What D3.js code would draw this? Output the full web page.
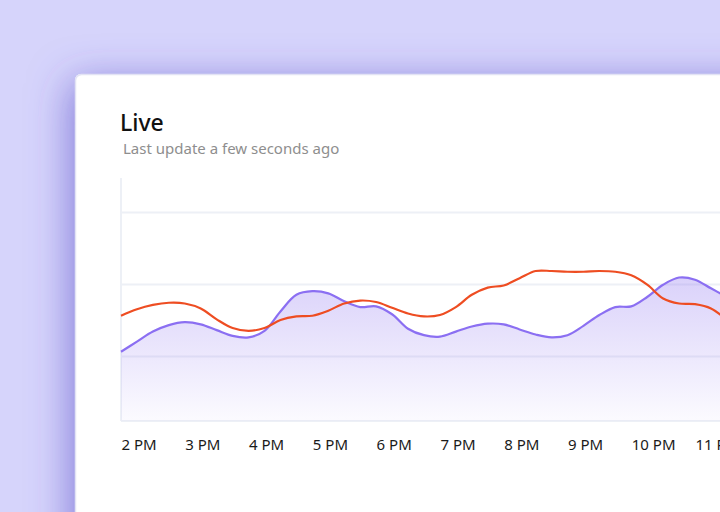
<!DOCTYPE html>
<html>
<head>
<meta charset="utf-8">
<script src="https://cdn.jsdelivr.net/npm/d3@7"></script>
<style>
  html, body { margin: 0; padding: 0; }
  body { width: 720px; height: 512px; overflow: hidden; background: #d6d4fb; font-family: "Noto Sans", sans-serif; }
</style>
</head>
<body>
<script>
// Live chart, two series sampled every 15 minutes from 2 PM

var startHour = 14;
var tickHours = [14, 15, 16, 17, 18, 19, 20, 21, 22, 23];
var gridValues = [100, 200, 300];

// purple series (filled)
var visitors = [106, 120, 134, 143, 147, 144, 136, 128, 126, 135,
  162, 185, 190, 187, 176, 168, 169, 158, 138, 129,
  127, 134, 141, 145, 144, 137, 130, 126, 129, 142,
  157, 168, 169, 182, 199, 209, 206, 194, 182];

// orange series
var sessions = [156, 165, 171, 174, 173, 166, 151, 139, 135, 139,
  150, 155, 156, 163, 173, 177, 175, 167, 159, 155,
  157, 168, 185, 195, 198, 208, 218, 218, 217, 217,
  218, 217, 212, 199, 180, 173, 172, 166, 150];

var w = 720;
var h = 512;

var svg = d3.select("body")
  .append("svg")
  .attr("width", w)
  .attr("height", h)
  .style("display", "block");

var defs = svg.append("defs");

svg.append("rect")
  .attr("width", w)
  .attr("height", h)
  .attr("fill", "#d6d4fb");

var shadow = defs.append("filter")
  .attr("id", "cardShadow")
  .attr("x", "-40%").attr("y", "-40%")
  .attr("width", "180%").attr("height", "180%");
shadow.append("feDropShadow")
  .attr("dx", -4).attr("dy", 8)
  .attr("stdDeviation", 20)
  .attr("flood-color", "#4e43c4")
  .attr("flood-opacity", 0.6);

// card
svg.append("rect")
  .attr("x", 75)
  .attr("y", 74)
  .attr("width", 700)
  .attr("height", 500)
  .attr("rx", 6)
  .attr("fill", "#ffffff")
  .attr("filter", "url(#cardShadow)");
svg.append("rect")
  .attr("x", 75.5)
  .attr("y", 74.5)
  .attr("width", 700)
  .attr("height", 500)
  .attr("rx", 6)
  .attr("fill", "none")
  .attr("stroke", "#e2e3f4")
  .attr("stroke-width", 1.5);

svg.append("text")
  .attr("x", 120)
  .attr("y", 131)
  .attr("font-size", 23)
  .attr("font-weight", 500)
  .attr("fill", "#111111")
  .text("Live");

svg.append("text")
  .attr("x", 123)
  .attr("y", 154)
  .attr("font-size", 15)
  .attr("fill", "#8e8e8e")
  .text("Last update a few seconds ago");

// scales
function timeAt(i) {
  return new Date(2024, 0, 1, startHour, i * 15);
}

var plotLeft = 121;
var plotTop = 178;
var plotBottom = 421;

var scaleX = d3.scaleTime()
  .domain([timeAt(0), timeAt(38)])
  .range([plotLeft, plotLeft + 38 * 15.945]);

var scaleY = d3.scaleLinear()
  .domain([10, 347])
  .range([plotBottom, plotTop]);

var grid = svg.append("g");

grid.selectAll("line.grid")
  .data(gridValues)
  .enter()
  .append("line")
  .attr("class", "grid")
  .attr("x1", plotLeft)
  .attr("x2", w)
  .attr("y1", function(d) { return Math.round(scaleY(d)) + 0.5; })
  .attr("y2", function(d) { return Math.round(scaleY(d)) + 0.5; })
  .attr("stroke", "#edf0f6")
  .attr("stroke-width", 2);

// baseline and left edge
grid.append("line")
  .attr("x1", plotLeft).attr("x2", w)
  .attr("y1", plotBottom).attr("y2", plotBottom)
  .attr("stroke", "#edf0f6").attr("stroke-width", 2);
grid.append("line")
  .attr("x1", plotLeft).attr("x2", plotLeft)
  .attr("y1", plotTop).attr("y2", plotBottom)
  .attr("stroke", "#edf0f6").attr("stroke-width", 2);

// area gradient
var fillGrad = defs.append("linearGradient")
  .attr("id", "areaFill")
  .attr("gradientUnits", "userSpaceOnUse")
  .attr("x1", 0).attr("x2", 0)
  .attr("y1", 275).attr("y2", plotBottom);
fillGrad.append("stop").attr("offset", "0%").attr("stop-color", "#8a6ff0").attr("stop-opacity", 0.32);
fillGrad.append("stop").attr("offset", "100%").attr("stop-color", "#8a6ff0").attr("stop-opacity", 0.03);

var curve = d3.curveCatmullRom.alpha(0.5);

var area = d3.area()
  .x(function(d, i) { return scaleX(timeAt(i)); })
  .y0(plotBottom)
  .y1(function(d) { return scaleY(d); })
  .curve(curve);

var line = d3.line()
  .x(function(d, i) { return scaleX(timeAt(i)); })
  .y(function(d) { return scaleY(d); })
  .curve(curve);

svg.append("path")
  .datum(visitors)
  .attr("d", area)
  .attr("fill", "url(#areaFill)");

svg.append("path")
  .datum(visitors)
  .attr("d", line)
  .attr("fill", "none")
  .attr("stroke", "#8b6ff2")
  .attr("stroke-width", 2.2);

svg.append("path")
  .datum(sessions)
  .attr("d", line)
  .attr("fill", "none")
  .attr("stroke", "#ee4d22")
  .attr("stroke-width", 2.2);

// x axis labels
var fmt = d3.timeFormat("%-I %p");
var xAxis = d3.axisBottom(scaleX)
  .tickValues(tickHours.map(function(hr) { return new Date(2024, 0, 1, hr); }))
  .tickFormat(fmt)
  .tickSize(0)
  .tickPadding(0);

var ax = svg.append("g")
  .attr("transform", "translate(0," + plotBottom + ")")
  .call(xAxis);
ax.select(".domain").remove();
ax.selectAll("text")
  .attr("text-anchor", "start")
  .attr("dy", null)
  .attr("y", 29)
  .attr("font-family", "'Noto Sans', sans-serif")
  .attr("font-size", 15)
  .attr("fill", "#1a1a1a");
</script>
</body>
</html>
